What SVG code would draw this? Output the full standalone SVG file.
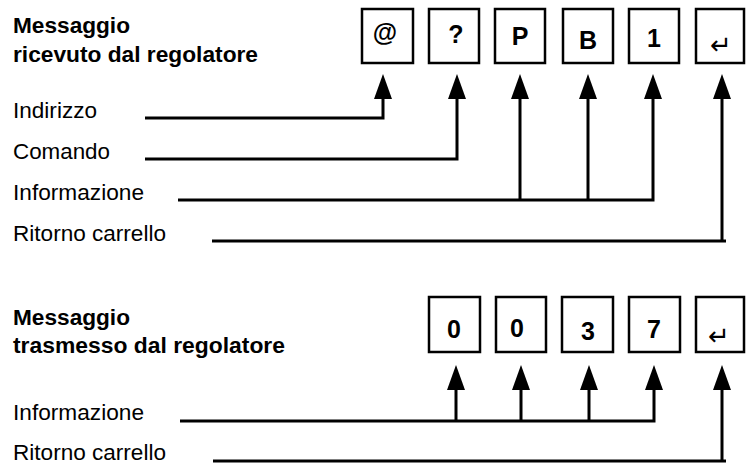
<svg xmlns="http://www.w3.org/2000/svg" width="747" height="466" viewBox="0 0 747 466">
<style>
text{font-family:"Liberation Sans",Arial,"DejaVu Sans",sans-serif;fill:#000}
.t{font-size:22px;font-weight:bold}
.l{font-size:22.5px}
.k{font-size:25px;font-weight:bold;text-anchor:middle}
.r{font-family:"DejaVu Sans","Liberation Sans",sans-serif;font-size:26px;text-anchor:middle}
.box{fill:#fff;stroke:#000;stroke-width:2.5}
.c{fill:none;stroke:#000;stroke-width:3;stroke-linejoin:miter}
</style>
<defs>
<marker id="ah" markerUnits="userSpaceOnUse" markerWidth="26" markerHeight="20" refX="0" refY="9" orient="auto" overflow="visible">
<path d="M0,0 L25,9 L0,18 z" fill="#000"/>
</marker>
</defs>
<rect width="747" height="466" fill="#fff"/>
<g id="title-rx">
<text class="t" x="13" y="33" textLength="117" lengthAdjust="spacingAndGlyphs">Messaggio</text>
<text class="t" x="13" y="62" textLength="245" lengthAdjust="spacingAndGlyphs">ricevuto dal regolatore</text>
</g>
<g id="labels-rx">
<text class="l" x="13" y="118" textLength="84" lengthAdjust="spacingAndGlyphs">Indirizzo</text>
<text class="l" x="13" y="159" textLength="97" lengthAdjust="spacingAndGlyphs">Comando</text>
<text class="l" x="13" y="200" textLength="131" lengthAdjust="spacingAndGlyphs">Informazione</text>
<text class="l" x="13" y="241" textLength="153" lengthAdjust="spacingAndGlyphs">Ritorno carrello</text>
</g>
<g id="box-at"><rect class="box" x="362" y="9" width="51" height="54"/><text class="k" x="385" y="41">@</text></g>
<g id="box-q"><rect class="box" x="429" y="9" width="50" height="54"/><text class="k" x="456" y="43">?</text></g>
<g id="box-p"><rect class="box" x="495" y="9" width="50" height="54"/><text class="k" x="520" y="45">P</text></g>
<g id="box-b"><rect class="box" x="563" y="9" width="50" height="54"/><text class="k" x="588" y="49">B</text></g>
<g id="box-1"><rect class="box" x="629" y="9" width="50" height="54"/><text class="k" x="654" y="47">1</text></g>
<g id="box-cr1"><rect class="box" x="696" y="9" width="48" height="54"/><text class="r" x="721" y="54">↵</text></g>
<g id="title-tx">
<text class="t" x="13" y="325" textLength="117" lengthAdjust="spacingAndGlyphs">Messaggio</text>
<text class="t" x="13" y="353" textLength="272" lengthAdjust="spacingAndGlyphs">trasmesso dal regolatore</text>
</g>
<g id="labels-tx">
<text class="l" x="13" y="420" textLength="131" lengthAdjust="spacingAndGlyphs">Informazione</text>
<text class="l" x="13" y="460" textLength="153" lengthAdjust="spacingAndGlyphs">Ritorno carrello</text>
</g>
<g id="box-0a"><rect class="box" x="429" y="297" width="51" height="55"/><text class="k" x="454" y="338">0</text></g>
<g id="box-0b"><rect class="box" x="496" y="297" width="50" height="55"/><text class="k" x="517" y="337">0</text></g>
<g id="box-3"><rect class="box" x="562" y="297" width="51" height="55"/><text class="k" x="588" y="340">3</text></g>
<g id="box-7"><rect class="box" x="629" y="297" width="51" height="55"/><text class="k" x="654" y="338">7</text></g>
<g id="box-cr2"><rect class="box" x="696" y="297" width="48" height="55"/><text class="r" x="719" y="345">↵</text></g>
<g id="connectors">
<path class="c" d="M145,118 H383 V99" marker-end="url(#ah)"/>
<path class="c" d="M145,159 H457 V99" marker-end="url(#ah)"/>
<path class="c" d="M178,200 H653 V99" marker-end="url(#ah)"/>
<path class="c" d="M520,200 V99" marker-end="url(#ah)"/>
<path class="c" d="M588,200 V99" marker-end="url(#ah)"/>
<path class="c" d="M212,241 H726"/>
<path class="c" d="M722,241 V99" marker-end="url(#ah)"/>
<path class="c" d="M180,421 H654 V390" marker-end="url(#ah)"/>
<path class="c" d="M456,421 V390" marker-end="url(#ah)"/>
<path class="c" d="M521,421 V390" marker-end="url(#ah)"/>
<path class="c" d="M589,421 V390" marker-end="url(#ah)"/>
<path class="c" d="M213,461 H726"/>
<path class="c" d="M722,461 V390" marker-end="url(#ah)"/>
</g>
</svg>
